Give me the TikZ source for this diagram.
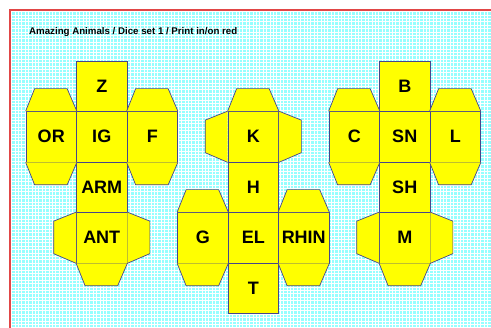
\documentclass[tikz,border=0pt]{standalone}
\usepackage{fontspec}
\setmainfont{Liberation Sans}
\definecolor{bgcyan}{RGB}{150,255,255}
\definecolor{edge}{RGB}{70,70,140}
\definecolor{dieyellow}{RGB}{255,255,0}
\definecolor{border}{RGB}{225,70,70}
\tikzset{
  face/.style={draw=edge, fill=dieyellow, line width=0.7pt, minimum size=50.5pt, inner sep=0pt,
    font=\fontsize{18}{18}\selectfont\bfseries},
  tab/.style={draw=edge, fill=dieyellow, line width=0.7pt, line join=round},
}
\newcommand\tabTop[1]{\draw[tab] (#1.north west) -- ++(9,-22.5) -- ++(32.5,0) -- (#1.north east);}
\newcommand\tabBot[1]{\draw[tab] (#1.south west) -- ++(9,22.5) -- ++(32.5,0) -- (#1.south east);}
\newcommand\tabLeft[1]{\draw[tab] (#1.north west) -- ++(-22.5,9) -- ++(0,32.5) -- (#1.south west);}
\newcommand\tabRight[1]{\draw[tab] (#1.north east) -- ++(22.5,9) -- ++(0,32.5) -- (#1.south east);}
\begin{document}
\begin{tikzpicture}[x=1pt,y=-1pt]
\useasboundingbox (0,0) rectangle (491,328);
\begin{scope}
\clip (0,0) rectangle (491,328);
\fill[bgcyan] (10,10) rectangle (495,332);
\foreach \k in {0,...,142} {
  \draw[white, line width=1.1pt] ({11.7+3.4*\k},10) -- ({11.7+3.4*\k},332);
}
\foreach \k in {0,...,95} {
  \draw[white, line width=1.1pt] (10,{11.7+3.4*\k}) -- (495,{11.7+3.4*\k});
}
\draw[border, line width=1.3pt] (10,332) -- (10,10) -- (495,10);
\end{scope}
\node[anchor=west, inner sep=0pt, font=\fontsize{9.7}{11}\selectfont\bfseries] (title) at (29,32.5) {Amazing Animals / Dice set 1 / Print in/on red};
% die 1
\node[face] (z) at (101.75,86.25) {Z};
\node[face] (ig) at (101.75,136.75) {IG};
\node[face] (or) at (51.25,136.75) {OR};
\node[face] (f) at (152.25,136.75) {F};
\node[face] (arm) at (101.75,187.25) {ARM};
\node[face] (ant) at (101.75,237.75) {ANT};
\tabTop{or}\tabBot{or}\tabTop{f}\tabBot{f}
\tabLeft{ant}\tabRight{ant}\tabBot{ant}
% die 2
\node[face] (k) at (253.25,136.75) {K};
\node[face] (h) at (253.25,187.25) {H};
\node[face] (el) at (253.25,237.75) {EL};
\node[face] (g) at (202.75,237.75) {G};
\node[face] (rhin) at (303.75,237.75) {RHIN};
\node[face] (t) at (253.25,288.25) {T};
\tabTop{k}\tabLeft{k}\tabRight{k}
\tabTop{g}\tabBot{g}\tabTop{rhin}\tabBot{rhin}
% die 3
\node[face] (b) at (404.75,86.25) {B};
\node[face] (sn) at (404.75,136.75) {SN};
\node[face] (c) at (354.25,136.75) {C};
\node[face] (l) at (455.25,136.75) {L};
\node[face] (sh) at (404.75,187.25) {SH};
\node[face] (m) at (404.75,237.75) {M};
\tabTop{c}\tabBot{c}\tabTop{l}\tabBot{l}
\tabLeft{m}\tabRight{m}\tabBot{m}
\end{tikzpicture}
\end{document}
